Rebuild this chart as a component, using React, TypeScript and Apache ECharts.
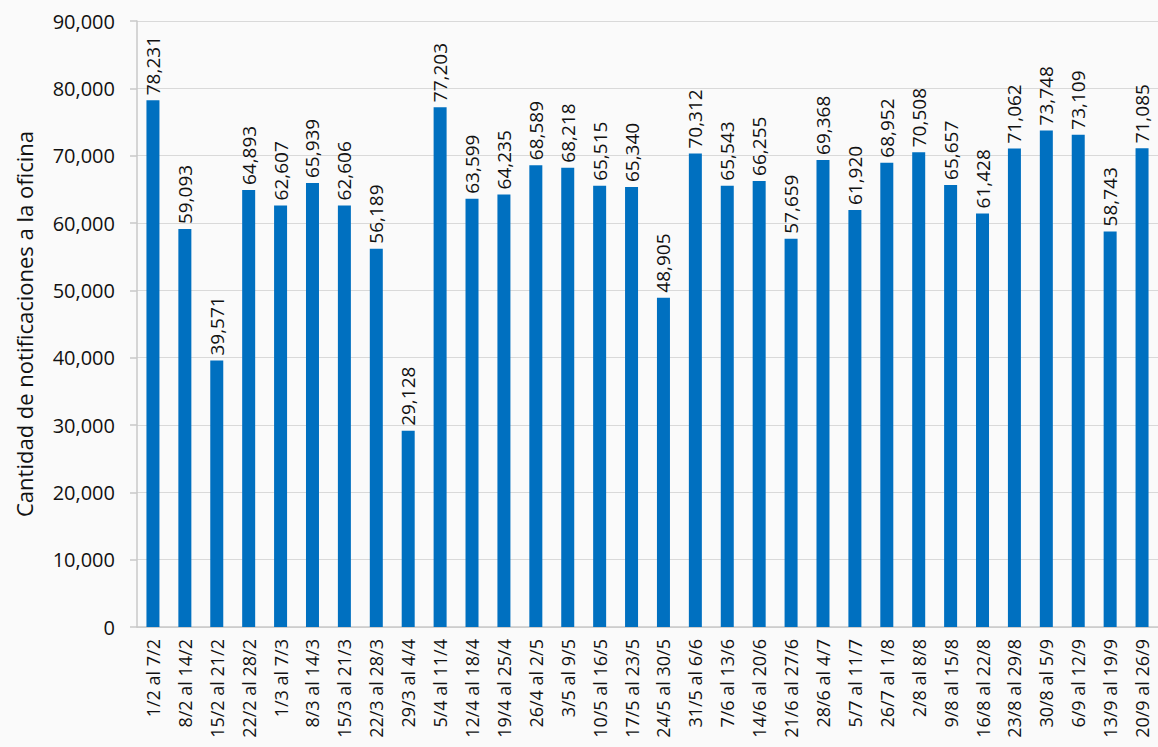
import React, { useEffect, useRef } from "react";
import * as echarts from "echarts";

const categories: string[] = [
  "1/2 al 7/2", "8/2 al 14/2", "15/2 al 21/2", "22/2 al 28/2", "1/3 al 7/3", "8/3 al 14/3",
  "15/3 al 21/3", "22/3 al 28/3", "29/3 al 4/4", "5/4 al 11/4", "12/4 al 18/4", "19/4 al 25/4",
  "26/4 al 2/5", "3/5 al 9/5", "10/5 al 16/5", "17/5 al 23/5", "24/5 al 30/5", "31/5 al 6/6",
  "7/6 al 13/6", "14/6 al 20/6", "21/6 al 27/6", "28/6 al 4/7", "5/7 al 11/7", "26/7 al 1/8",
  "2/8 al 8/8", "9/8 al 15/8", "16/8 al 22/8", "23/8 al 29/8", "30/8 al 5/9", "6/9 al 12/9",
  "13/9 al 19/9", "20/9 al 26/9",
];

const notificaciones: number[] = [
  78231, 59093, 39571, 64893, 62607, 65939, 62606, 56189, 29128, 77203, 63599, 64235,
  68589, 68218, 65515, 65340, 48905, 70312, 65543, 66255, 57659, 69368, 61920, 68952,
  70508, 65657, 61428, 71062, 73748, 73109, 58743, 71085,
];

const yAxisName = "Cantidad de notificaciones a la oficina";
const yMin = 0;
const yMax = 90000;
const yInterval = 10000;

const fmt = (v: number) => v.toLocaleString("en-US");

export default function App() {
  const ref = useRef<HTMLDivElement>(null);
  useEffect(() => {
    if (!ref.current) return;
    const chart = echarts.init(ref.current, undefined, { renderer: "svg" });
    const font = "'Open Sans', Lato, sans-serif";
    chart.setOption({
      animation: false,
      backgroundColor: "#fafafa",
      textStyle: { fontFamily: font },
      grid: { left: 137, right: 0, top: 21, bottom: 120, containLabel: false },
      xAxis: {
        type: "category",
        data: categories,
        axisLine: { show: true, lineStyle: { color: "#c8c8c8", width: 1.5 } },
        axisTick: { show: false },
        axisLabel: {
          rotate: 90,
          interval: 0,
          color: "#111",
          fontSize: 18,
          fontFamily: font,
          margin: 12,
        },
      },
      yAxis: {
        type: "value",
        min: yMin,
        max: yMax,
        interval: yInterval,
        name: yAxisName,
        nameLocation: "middle",
        nameGap: 102,
        nameRotate: 90,
        nameTextStyle: { fontSize: 22, color: "#111", fontFamily: font },
        axisLine: { show: true, lineStyle: { color: "#c8c8c8", width: 1.5 } },
        axisTick: { show: true, length: 7, lineStyle: { color: "#c8c8c8", width: 1.5 } },
        axisLabel: {
          color: "#111",
          fontSize: 20,
          fontFamily: font,
          margin: 22,
          formatter: (v: number) => fmt(v),
        },
        splitLine: { show: true, lineStyle: { color: "#d9d9d9", width: 1.2 } },
      },
      series: [
        {
          type: "bar",
          data: notificaciones,
          barWidth: 13,
          itemStyle: { color: "#0070C0" },
          label: {
            show: true,
            position: "top",
            rotate: 90,
            align: "left",
            verticalAlign: "middle",
            distance: 5,
            color: "#111",
            fontSize: 19,
            fontFamily: font,
            formatter: (p: any) => fmt(p.value),
          },
        },
      ],
    });
    return () => chart.dispose();
  }, []);
  return (
    <div
      ref={ref}
      style={{ position: "fixed", left: 0, top: 0, width: 1158, height: 747 }}
    />
  );
}
